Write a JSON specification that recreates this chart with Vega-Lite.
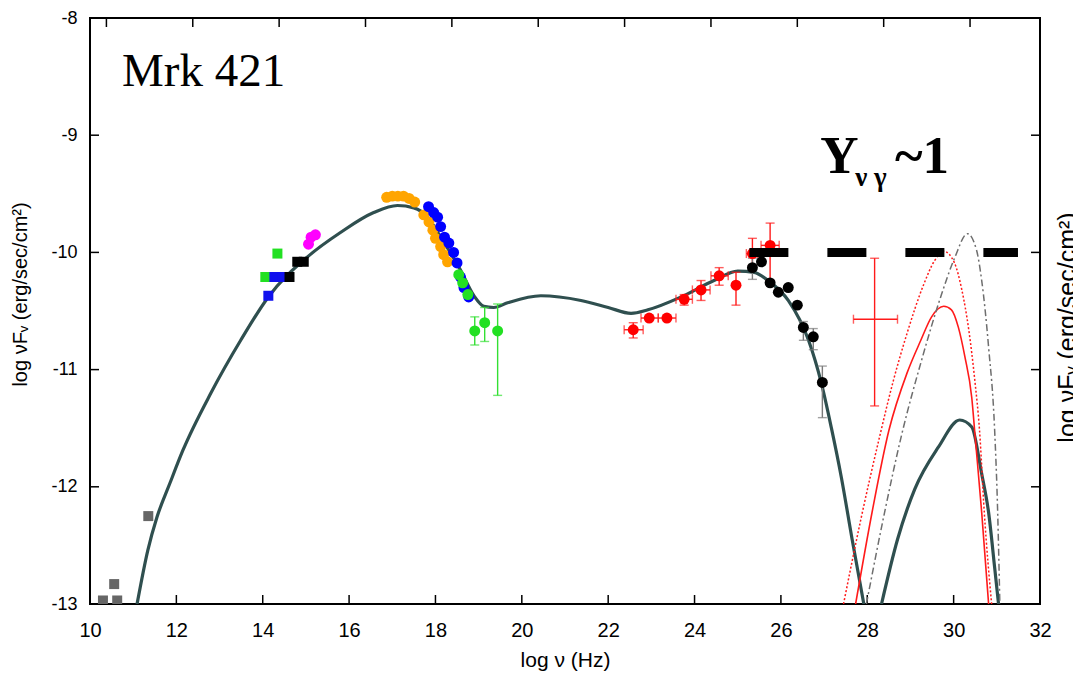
{
"$schema": "https://vega.github.io/schema/vega-lite/v6.json",
"width": 950, "height": 586,
"autosize": {"type": "none"},
"padding": {"left": 90, "top": 18, "right": 33, "bottom": 78},
"background": "white",
"config": {
  "view": {"stroke": "black", "strokeWidth": 2},
  "axis": {"grid": false, "domainColor": "black", "domainWidth": 1.5, "labelColor": "black", "titleColor": "black", "labelFont": "Liberation Sans", "titleFont": "Liberation Sans", "titleFontWeight": "normal"}
},
"datasets": {
  "pts": [
    {"s": "radio", "x": 10.30, "y": -12.97},
    {"s": "radio", "x": 10.63, "y": -12.97},
    {"s": "radio", "x": 10.56, "y": -12.83},
    {"s": "radio", "x": 11.35, "y": -12.25},
    {"s": "IR_green", "x": 14.34, "y": -10.01},
    {"s": "IR_green", "x": 14.06, "y": -10.21},
    {"s": "IR_blue", "x": 14.27, "y": -10.21},
    {"s": "IR_blue", "x": 14.45, "y": -10.21},
    {"s": "IR_blue", "x": 14.13, "y": -10.37},
    {"s": "optical", "x": 14.62, "y": -10.21},
    {"s": "optical", "x": 14.80, "y": -10.08},
    {"s": "optical", "x": 14.95, "y": -10.08},
    {"s": "UV", "x": 15.06, "y": -9.93},
    {"s": "UV", "x": 15.12, "y": -9.87},
    {"s": "UV", "x": 15.22, "y": -9.85},
    {"s": "Xray_orange", "x": 16.87, "y": -9.53},
    {"s": "Xray_orange", "x": 17.00, "y": -9.52},
    {"s": "Xray_orange", "x": 17.13, "y": -9.52},
    {"s": "Xray_orange", "x": 17.26, "y": -9.52},
    {"s": "Xray_orange", "x": 17.39, "y": -9.54},
    {"s": "Xray_orange", "x": 17.52, "y": -9.57},
    {"s": "Xray_orange", "x": 17.73, "y": -9.68},
    {"s": "Xray_orange", "x": 17.85, "y": -9.74},
    {"s": "Xray_orange", "x": 17.94, "y": -9.81},
    {"s": "Xray_orange", "x": 18.00, "y": -9.88},
    {"s": "Xray_orange", "x": 18.12, "y": -9.95},
    {"s": "Xray_orange", "x": 18.19, "y": -10.02},
    {"s": "Xray_orange", "x": 18.28, "y": -10.08},
    {"s": "Xray_blue", "x": 17.84, "y": -9.61},
    {"s": "Xray_blue", "x": 17.96, "y": -9.66},
    {"s": "Xray_blue", "x": 18.05, "y": -9.70},
    {"s": "Xray_blue", "x": 18.12, "y": -9.78},
    {"s": "Xray_blue", "x": 18.21, "y": -9.87},
    {"s": "Xray_blue", "x": 18.31, "y": -9.92},
    {"s": "Xray_blue", "x": 18.42, "y": -10.00},
    {"s": "Xray_blue", "x": 18.50, "y": -10.09},
    {"s": "Xray_blue", "x": 18.58, "y": -10.21},
    {"s": "Xray_blue", "x": 18.66, "y": -10.30},
    {"s": "Xray_blue", "x": 18.77, "y": -10.38},
    {"s": "Xray_green", "x": 18.54, "y": -10.19},
    {"s": "Xray_green", "x": 18.63, "y": -10.26},
    {"s": "Xray_green", "x": 18.75, "y": -10.36},
    {"s": "Xray_green", "x": 18.91, "y": -10.67, "ylo": -10.79, "yhi": -10.55},
    {"s": "Xray_green", "x": 19.14, "y": -10.60, "ylo": -10.76, "yhi": -10.47},
    {"s": "Xray_green", "x": 19.44, "y": -10.67, "ylo": -11.22, "yhi": -10.44},
    {"s": "Fermi", "x": 22.58, "y": -10.66, "ylo": -10.73, "yhi": -10.60, "xlo": 22.37, "xhi": 22.81},
    {"s": "Fermi", "x": 22.95, "y": -10.56, "xlo": 22.76, "xhi": 23.16},
    {"s": "Fermi", "x": 23.36, "y": -10.56, "xlo": 23.16, "xhi": 23.57},
    {"s": "Fermi", "x": 23.76, "y": -10.40, "ylo": -10.45, "yhi": -10.36, "xlo": 23.57, "xhi": 23.95},
    {"s": "Fermi", "x": 24.15, "y": -10.32, "ylo": -10.41, "yhi": -10.24, "xlo": 23.95, "xhi": 24.36},
    {"s": "Fermi", "x": 24.57, "y": -10.20, "ylo": -10.28, "yhi": -10.13, "xlo": 24.38, "xhi": 24.78},
    {"s": "Fermi", "x": 24.96, "y": -10.28, "ylo": -10.45, "yhi": -10.17},
    {"s": "Fermi", "x": 25.34, "y": -10.01, "ylo": -10.11, "yhi": -9.88, "xlo": 25.20, "xhi": 25.46},
    {"s": "Fermi", "x": 25.75, "y": -9.94, "ylo": -10.24, "yhi": -9.75, "xlo": 25.54, "xhi": 25.96},
    {"s": "TeV", "x": 25.34, "y": -10.13, "ylo": -10.23, "yhi": -10.05},
    {"s": "TeV", "x": 25.55, "y": -10.08},
    {"s": "TeV", "x": 25.75, "y": -10.26},
    {"s": "TeV", "x": 25.94, "y": -10.34},
    {"s": "TeV", "x": 26.17, "y": -10.30},
    {"s": "TeV", "x": 26.38, "y": -10.45},
    {"s": "TeV", "x": 26.52, "y": -10.64, "ylo": -10.75, "yhi": -10.59},
    {"s": "TeV", "x": 26.75, "y": -10.72, "ylo": -10.83, "yhi": -10.65},
    {"s": "TeV", "x": 26.96, "y": -11.11, "ylo": -11.41, "yhi": -10.97},
    {"s": "limit", "x": 28.17, "y": -10.57, "ylo": -11.31, "yhi": -10.05, "xlo": 27.68, "xhi": 28.70}
  ],
  "curves": [
    {"c": "sync", "x": 11.09, "y": -13.0}, {"c": "sync", "x": 11.34, "y": -12.54}, {"c": "sync", "x": 11.55, "y": -12.26},
    {"c": "sync", "x": 11.85, "y": -11.97}, {"c": "sync", "x": 12.15, "y": -11.69}, {"c": "sync", "x": 12.8, "y": -11.2},
    {"c": "sync", "x": 13.49, "y": -10.75}, {"c": "sync", "x": 14.13, "y": -10.38}, {"c": "sync", "x": 15.03, "y": -10.04},
    {"c": "sync", "x": 15.8, "y": -9.83}, {"c": "sync", "x": 16.57, "y": -9.66}, {"c": "sync", "x": 17.12, "y": -9.6},
    {"c": "sync", "x": 17.5, "y": -9.62}, {"c": "sync", "x": 17.82, "y": -9.7}, {"c": "sync", "x": 18.12, "y": -9.87},
    {"c": "sync", "x": 18.58, "y": -10.15}, {"c": "sync", "x": 18.89, "y": -10.37}, {"c": "sync", "x": 19.12, "y": -10.46},
    {"c": "sync", "x": 19.35, "y": -10.47}, {"c": "sync", "x": 19.67, "y": -10.43}, {"c": "sync", "x": 20.44, "y": -10.37},
    {"c": "sync", "x": 21.37, "y": -10.41}, {"c": "sync", "x": 22.0, "y": -10.47}, {"c": "sync", "x": 22.53, "y": -10.52},
    {"c": "sync", "x": 22.92, "y": -10.49}, {"c": "sync", "x": 23.69, "y": -10.38}, {"c": "sync", "x": 24.45, "y": -10.24},
    {"c": "sync", "x": 25.0, "y": -10.16}, {"c": "sync", "x": 25.38, "y": -10.17}, {"c": "sync", "x": 25.7, "y": -10.24},
    {"c": "sync", "x": 26.17, "y": -10.41}, {"c": "sync", "x": 26.64, "y": -10.75}, {"c": "sync", "x": 26.94, "y": -11.12},
    {"c": "sync", "x": 27.17, "y": -11.5}, {"c": "sync", "x": 27.4, "y": -11.92}, {"c": "sync", "x": 27.65, "y": -12.45},
    {"c": "sync", "x": 27.92, "y": -13.0},
    {"c": "nu", "x": 28.33, "y": -13.0}, {"c": "nu", "x": 28.7, "y": -12.45}, {"c": "nu", "x": 29.1, "y": -12.02},
    {"c": "nu", "x": 29.65, "y": -11.66}, {"c": "nu", "x": 30.14, "y": -11.43}, {"c": "nu", "x": 30.42, "y": -11.49},
    {"c": "nu", "x": 30.65, "y": -11.89}, {"c": "nu", "x": 30.81, "y": -12.22}, {"c": "nu", "x": 30.95, "y": -12.69},
    {"c": "nu", "x": 31.04, "y": -13.0},
    {"c": "red", "x": 27.73, "y": -13.0}, {"c": "red", "x": 28.12, "y": -12.2}, {"c": "red", "x": 28.5, "y": -11.52},
    {"c": "red", "x": 28.92, "y": -11.03}, {"c": "red", "x": 29.24, "y": -10.75}, {"c": "red", "x": 29.49, "y": -10.55},
    {"c": "red", "x": 29.77, "y": -10.46}, {"c": "red", "x": 29.95, "y": -10.49}, {"c": "red", "x": 30.11, "y": -10.64},
    {"c": "red", "x": 30.26, "y": -10.89}, {"c": "red", "x": 30.42, "y": -11.24}, {"c": "red", "x": 30.5, "y": -11.58},
    {"c": "red", "x": 30.65, "y": -12.22}, {"c": "red", "x": 30.81, "y": -13.0},
    {"c": "reddot", "x": 27.45, "y": -13.0}, {"c": "reddot", "x": 27.85, "y": -12.28}, {"c": "reddot", "x": 28.3, "y": -11.55},
    {"c": "reddot", "x": 28.6, "y": -11.1}, {"c": "reddot", "x": 28.93, "y": -10.68}, {"c": "reddot", "x": 29.3, "y": -10.28},
    {"c": "reddot", "x": 29.56, "y": -10.07}, {"c": "reddot", "x": 29.77, "y": -9.99}, {"c": "reddot", "x": 30.02, "y": -10.09},
    {"c": "reddot", "x": 30.19, "y": -10.32}, {"c": "reddot", "x": 30.35, "y": -10.66}, {"c": "reddot", "x": 30.49, "y": -11.09},
    {"c": "reddot", "x": 30.6, "y": -11.52}, {"c": "reddot", "x": 30.71, "y": -12.22}, {"c": "reddot", "x": 30.88, "y": -13.0},
    {"c": "gray", "x": 27.98, "y": -13.0}, {"c": "gray", "x": 28.4, "y": -12.22}, {"c": "gray", "x": 28.8, "y": -11.55},
    {"c": "gray", "x": 29.25, "y": -10.93}, {"c": "gray", "x": 29.7, "y": -10.38}, {"c": "gray", "x": 30.02, "y": -10.05},
    {"c": "gray", "x": 30.32, "y": -9.84}, {"c": "gray", "x": 30.53, "y": -9.98}, {"c": "gray", "x": 30.65, "y": -10.24},
    {"c": "gray", "x": 30.81, "y": -10.81}, {"c": "gray", "x": 30.95, "y": -11.52}, {"c": "gray", "x": 31.02, "y": -12.22},
    {"c": "gray", "x": 31.07, "y": -13.0}
  ],
  "xticks": [{"v": 12}, {"v": 14}, {"v": 16}, {"v": 18}, {"v": 20}, {"v": 22}, {"v": 24}, {"v": 26}, {"v": 28}, {"v": 30}],
  "x2ticks": [{"v": 10.38}, {"v": 12.38}, {"v": 14.38}, {"v": 16.38}, {"v": 18.38}, {"v": 20.38}, {"v": 22.38}, {"v": 24.38}, {"v": 26.38}, {"v": 28.38}, {"v": 30.38}],
  "yticks": [{"v": -12}, {"v": -11}, {"v": -10}, {"v": -9}]
},
"layer": [
  {
    "layer": [
      {
        "data": {"name": "curves"},
        "transform": [{"filter": "datum.c == 'sync'"}],
        "mark": {"type": "line", "interpolate": "monotone", "color": "#2f4f4f", "strokeWidth": 3.2, "clip": true},
        "encoding": {
          "x": {"field": "x", "type": "quantitative", "scale": {"domain": [10, 32], "nice": false, "zero": false},
                "axis": {"orient": "bottom", "values": [10, 12, 14, 16, 18, 20, 22, 24, 26, 28, 30, 32], "labelExpr": "'' + datum.value", "ticks": false, "domain": false, "labelPadding": 16, "labelFontSize": 20, "labelFlush": false, "labelOverlap": false, "title": "log ν (Hz)", "titleFontSize": 21, "titlePadding": 9}},
          "y": {"field": "y", "type": "quantitative", "scale": {"domain": [-13, -8], "nice": false, "zero": false},
                "axis": {"orient": "left", "values": [-13, -12, -11, -10, -9, -8], "labelExpr": "'' + datum.value", "ticks": false, "domain": false, "labelPadding": 13, "labelFontSize": 18, "labelFlush": false, "labelOverlap": false, "title": "log νFᵥ (erg/sec/cm²)", "titleFontSize": 20, "titlePadding": 20, "titleY": 276}}
        }
      },
      {
        "data": {"name": "xticks"},
        "mark": {"type": "tick", "orient": "vertical", "size": 18, "thickness": 1.5, "color": "black", "opacity": 1, "clip": true},
        "encoding": {"x": {"field": "v", "type": "quantitative"}, "y": {"datum": -13}}
      },
      {
        "data": {"name": "x2ticks"},
        "mark": {"type": "tick", "orient": "vertical", "size": 18, "thickness": 1.5, "color": "black", "opacity": 1, "clip": true},
        "encoding": {"x": {"field": "v", "type": "quantitative"}, "y": {"datum": -8}}
      },
      {
        "data": {"name": "yticks"},
        "mark": {"type": "tick", "orient": "horizontal", "size": 18, "thickness": 1.5, "color": "black", "opacity": 1, "clip": true},
        "encoding": {"y": {"field": "v", "type": "quantitative"}, "x": {"datum": 10}}
      },
      {
        "data": {"name": "yticks"},
        "mark": {"type": "tick", "orient": "horizontal", "size": 18, "thickness": 1.5, "color": "black", "opacity": 1, "clip": true},
        "encoding": {"y": {"field": "v", "type": "quantitative"}, "x": {"datum": 32}}
      },
      {
        "data": {"name": "curves"},
        "transform": [{"filter": "datum.c == 'nu'"}],
        "mark": {"type": "line", "interpolate": "monotone", "color": "#2f4f4f", "strokeWidth": 3.2, "clip": true},
        "encoding": {"x": {"field": "x", "type": "quantitative"}, "y": {"field": "y", "type": "quantitative"}}
      },
      {
        "data": {"name": "curves"},
        "transform": [{"filter": "datum.c == 'red'"}],
        "mark": {"type": "line", "interpolate": "monotone", "color": "#ff1a1a", "strokeWidth": 1.6, "clip": true},
        "encoding": {"x": {"field": "x", "type": "quantitative"}, "y": {"field": "y", "type": "quantitative"}}
      },
      {
        "data": {"name": "curves"},
        "transform": [{"filter": "datum.c == 'reddot'"}],
        "mark": {"type": "line", "interpolate": "monotone", "color": "#ff1a1a", "strokeWidth": 1.5, "strokeDash": [2, 2], "clip": true},
        "encoding": {"x": {"field": "x", "type": "quantitative"}, "y": {"field": "y", "type": "quantitative"}}
      },
      {
        "data": {"name": "curves"},
        "transform": [{"filter": "datum.c == 'gray'"}],
        "mark": {"type": "line", "interpolate": "monotone", "color": "#6e6e6e", "strokeWidth": 1.5, "strokeDash": [7, 3, 2, 3], "clip": true},
        "encoding": {"x": {"field": "x", "type": "quantitative"}, "y": {"field": "y", "type": "quantitative"}}
      },
      {
        "data": {"name": "pts"},
        "transform": [{"filter": "isValid(datum.ylo)"}],
        "mark": {"type": "rule", "strokeWidth": 1.4},
        "encoding": {
          "x": {"field": "x", "type": "quantitative"},
          "y": {"field": "ylo", "type": "quantitative"},
          "y2": {"field": "yhi"},
          "color": {"field": "s", "type": "nominal", "legend": null, "scale": {"domain": ["Xray_green", "Fermi", "TeV", "limit"], "range": ["#33e033", "#ff1a1a", "#7a7a7a", "#ff1a1a"]}}
        }
      },
      {
        "data": {"name": "pts"},
        "transform": [{"filter": "isValid(datum.ylo)"}],
        "mark": {"type": "tick", "orient": "horizontal", "size": 9, "thickness": 1.4},
        "encoding": {
          "x": {"field": "x", "type": "quantitative"},
          "y": {"field": "ylo", "type": "quantitative"},
          "color": {"field": "s", "type": "nominal", "legend": null, "scale": {"domain": ["Xray_green", "Fermi", "TeV", "limit"], "range": ["#33e033", "#ff1a1a", "#7a7a7a", "#ff1a1a"]}}
        }
      },
      {
        "data": {"name": "pts"},
        "transform": [{"filter": "isValid(datum.yhi)"}],
        "mark": {"type": "tick", "orient": "horizontal", "size": 9, "thickness": 1.4},
        "encoding": {
          "x": {"field": "x", "type": "quantitative"},
          "y": {"field": "yhi", "type": "quantitative"},
          "color": {"field": "s", "type": "nominal", "legend": null, "scale": {"domain": ["Xray_green", "Fermi", "TeV", "limit"], "range": ["#33e033", "#ff1a1a", "#7a7a7a", "#ff1a1a"]}}
        }
      },
      {
        "data": {"name": "pts"},
        "transform": [{"filter": "isValid(datum.xlo)"}],
        "mark": {"type": "rule", "strokeWidth": 1.4},
        "encoding": {
          "x": {"field": "xlo", "type": "quantitative"},
          "x2": {"field": "xhi"},
          "y": {"field": "y", "type": "quantitative"},
          "color": {"field": "s", "type": "nominal", "legend": null, "scale": {"domain": ["Xray_green", "Fermi", "TeV", "limit"], "range": ["#33e033", "#ff1a1a", "#7a7a7a", "#ff1a1a"]}}
        }
      },
      {
        "data": {"name": "pts"},
        "transform": [{"filter": "isValid(datum.xlo)"}],
        "mark": {"type": "tick", "orient": "vertical", "size": 9, "thickness": 1.4},
        "encoding": {
          "x": {"field": "xlo", "type": "quantitative"},
          "y": {"field": "y", "type": "quantitative"},
          "color": {"field": "s", "type": "nominal", "legend": null, "scale": {"domain": ["Xray_green", "Fermi", "TeV", "limit"], "range": ["#33e033", "#ff1a1a", "#7a7a7a", "#ff1a1a"]}}
        }
      },
      {
        "data": {"name": "pts"},
        "transform": [{"filter": "isValid(datum.xhi)"}],
        "mark": {"type": "tick", "orient": "vertical", "size": 9, "thickness": 1.4},
        "encoding": {
          "x": {"field": "xhi", "type": "quantitative"},
          "y": {"field": "y", "type": "quantitative"},
          "color": {"field": "s", "type": "nominal", "legend": null, "scale": {"domain": ["Xray_green", "Fermi", "TeV", "limit"], "range": ["#33e033", "#ff1a1a", "#7a7a7a", "#ff1a1a"]}}
        }
      },
      {
        "data": {"name": "pts"},
        "transform": [{"filter": {"field": "s", "oneOf": ["radio", "IR_green", "IR_blue", "optical"]}}],
        "mark": {"type": "point", "shape": "square", "filled": true, "size": 100, "opacity": 1, "clip": true},
        "encoding": {
          "x": {"field": "x", "type": "quantitative"},
          "y": {"field": "y", "type": "quantitative"},
          "color": {"field": "s", "type": "nominal", "legend": null, "scale": {"domain": ["radio", "IR_green", "IR_blue", "optical"], "range": ["#666666", "#22e022", "#1010ee", "#000000"]}}
        }
      },
      {
        "data": {"name": "pts"},
        "transform": [{"filter": {"field": "s", "oneOf": ["UV", "Xray_orange", "Xray_blue", "Xray_green", "Fermi", "TeV"]}}],
        "mark": {"type": "point", "shape": "circle", "filled": true, "size": 120, "opacity": 1, "clip": true},
        "encoding": {
          "x": {"field": "x", "type": "quantitative"},
          "y": {"field": "y", "type": "quantitative"},
          "color": {"field": "s", "type": "nominal", "legend": null, "scale": {"domain": ["UV", "Xray_orange", "Xray_blue", "Xray_green", "Fermi", "TeV"], "range": ["#ff00ff", "#ffa500", "#0000ff", "#22e022", "#ff0000", "#000000"]}}
        }
      },
      {
        "data": {"values": [{"x": 25.27, "x2": 31.49, "y": -10}]},
        "mark": {"type": "rule", "color": "black", "strokeWidth": 9, "strokeDash": [39, 39], "strokeCap": "butt"},
        "encoding": {
          "x": {"field": "x", "type": "quantitative"},
          "x2": {"field": "x2"},
          "y": {"field": "y", "type": "quantitative"}
        }
      },
      {
        "data": {"values": [{"x": 10.74, "y": -8.58, "t": "Mrk 421"}]},
        "mark": {"type": "text", "align": "left", "baseline": "alphabetic", "font": "Liberation Serif", "fontSize": 47, "color": "black"},
        "encoding": {"x": {"field": "x", "type": "quantitative"}, "y": {"field": "y", "type": "quantitative"}, "text": {"field": "t"}}
      },
      {
        "data": {"values": [{"x": 26.91, "y": -9.32, "t": "Y"}, {"x": 28.64, "y": -9.32, "t": "~1"}]},
        "mark": {"type": "text", "align": "left", "baseline": "alphabetic", "font": "Liberation Serif", "fontSize": 53, "fontWeight": "bold", "color": "black"},
        "encoding": {"x": {"field": "x", "type": "quantitative"}, "y": {"field": "y", "type": "quantitative"}, "text": {"field": "t"}}
      },
      {
        "data": {"values": [{"x": 27.72, "y": -9.43, "t": "ν γ"}]},
        "mark": {"type": "text", "align": "left", "baseline": "alphabetic", "font": "Liberation Serif", "fontSize": 27, "fontWeight": "bold", "color": "black"},
        "encoding": {"x": {"field": "x", "type": "quantitative"}, "y": {"field": "y", "type": "quantitative"}, "text": {"field": "t"}}
      }
    ],
    "resolve": {"scale": {"color": "independent"}}
  },
  {
    "data": {"name": "pts"},
    "mark": {"type": "point", "opacity": 0},
    "encoding": {
      "x": {"field": "x", "type": "quantitative", "axis": null},
      "y": {"field": "y", "type": "quantitative",
            "axis": {"orient": "right", "values": [-13, -12, -11, -10, -9, -8], "labels": false, "ticks": false, "domain": false, "title": "log νFᵥ (erg/sec/cm²)", "titleAngle": 270, "titleBaseline": "top", "titleFontSize": 25, "titlePadding": 15, "titleY": 309}}
    }
  }
],
"resolve": {"axis": {"x": "independent", "y": "independent"}}
}
